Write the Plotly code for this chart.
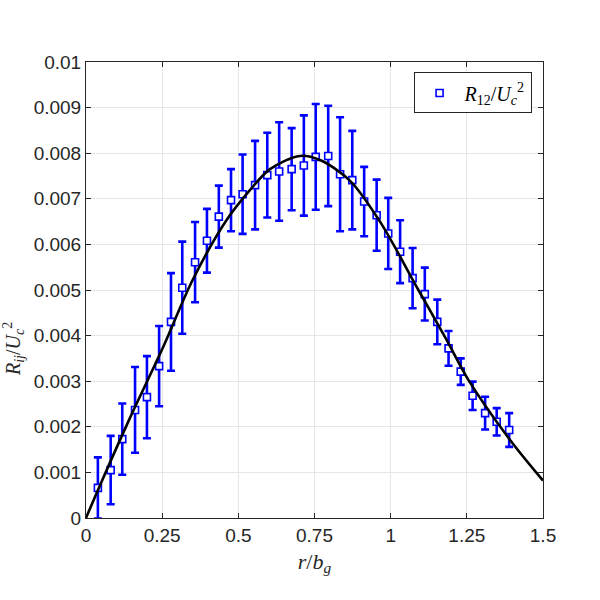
import plotly.graph_objects as go

r_bg = [0.039, 0.081, 0.119, 0.161, 0.200, 0.240, 0.279, 0.316, 0.358, 0.397,
        0.436, 0.476, 0.514, 0.555, 0.595, 0.634, 0.675, 0.715, 0.754, 0.795,
        0.834, 0.874, 0.913, 0.954, 0.992, 1.031, 1.072, 1.112, 1.153, 1.190,
        1.230, 1.269, 1.310, 1.348, 1.389]
R12 = [0.00066, 0.00105, 0.00173, 0.00237, 0.00265, 0.00333, 0.00430, 0.00505, 0.00561, 0.00608,
       0.00661, 0.00697, 0.00710, 0.00730, 0.00752, 0.00760, 0.00765, 0.00773, 0.00792, 0.00794,
       0.00754, 0.00741, 0.00694, 0.00664, 0.00624, 0.00584, 0.00526, 0.00491, 0.00430, 0.00372,
       0.00321, 0.00268, 0.00230, 0.00211, 0.00193]
R12_err = [0.00067, 0.00075, 0.00078, 0.00094, 0.00090, 0.00088, 0.00107, 0.00101, 0.00088, 0.00070,
           0.00068, 0.00068, 0.00087, 0.00097, 0.00093, 0.00108, 0.00090, 0.00110, 0.00116, 0.00110,
           0.00125, 0.00108, 0.00076, 0.00078, 0.00078, 0.00069, 0.00066, 0.00058, 0.00049, 0.00038,
           0.00029, 0.00031, 0.00036, 0.00030, 0.00037]

# reference curve
curve_x = [0.0, 0.039, 0.144, 0.254, 0.350, 0.462, 0.538, 0.604, 0.702, 0.768,
           0.866, 0.965, 1.091, 1.184, 1.255, 1.392, 1.5]
curve_y = [0.0, 0.00061, 0.00219, 0.00376, 0.00522, 0.00654, 0.00719, 0.00765, 0.00794, 0.00785,
           0.00740, 0.00650, 0.00500, 0.00390, 0.00303, 0.00171, 0.00082]

x_ticks = [0, 0.25, 0.5, 0.75, 1, 1.25, 1.5]
x_tick_text = ["0", "0.25", "0.5", "0.75", "1", "1.25", "1.5"]
y_ticks = [0, 0.001, 0.002, 0.003, 0.004, 0.005, 0.006, 0.007, 0.008, 0.009, 0.01]
y_tick_text = ["0", "0.001", "0.002", "0.003", "0.004", "0.005", "0.006", "0.007", "0.008", "0.009", "0.01"]

blue = "rgb(0,0,255)"
axcol = "rgb(38,38,38)"
serif = "Liberation Serif, Times New Roman, serif"
sans = "Liberation Sans, Arial, sans-serif"

fig = go.Figure()
fig.add_trace(go.Scatter(
    x=r_bg, y=R12, mode="markers",
    name="<i>R</i><sub>12</sub>/<i>U</i><sub><i>c</i></sub><sup>2</sup>",
    marker=dict(symbol="square", size=7, color="white", line=dict(color=blue, width=1.6)),
    error_y=dict(type="data", array=R12_err, visible=True, color=blue, thickness=2.6, width=4),
))
fig.add_trace(go.Scatter(
    x=curve_x, y=curve_y, mode="lines", showlegend=False,
    line=dict(color="black", width=2.6, shape="spline", smoothing=0.9),
))

axis_common = dict(
    showline=True, linecolor=axcol, linewidth=1, mirror="ticks",
    ticks="inside", ticklen=5, tickcolor=axcol,
    showgrid=True, gridcolor="rgb(230,230,230)", gridwidth=1,
    zeroline=False, tickfont=dict(family=sans, size=19, color=axcol),
)
fig.update_xaxes(range=[0, 1.5], tickvals=x_ticks, ticktext=x_tick_text,
                 title=dict(text="<i>r</i>/<i>b</i><sub><i>g</i></sub>",
                            font=dict(family=serif, size=22, color=axcol), standoff=8),
                 **axis_common)
fig.update_yaxes(range=[0, 0.01], tickvals=y_ticks, ticktext=y_tick_text, **axis_common)

fig.add_annotation(
    text="<i>R</i><sub><i>ij</i></sub>/<i>U</i><sub><i>c</i></sub><sup>2</sup>",
    xref="paper", yref="paper", x=-0.158, y=0.37, textangle=-90,
    showarrow=False, font=dict(family=serif, size=20, color=axcol),
    xanchor="center", yanchor="middle",
)

fig.update_layout(
    width=600, height=600,
    margin=dict(l=86, r=57, t=62, b=82),
    paper_bgcolor="white", plot_bgcolor="white",
    legend=dict(x=0.975, y=0.977, xanchor="right", yanchor="top",
                bgcolor="white", bordercolor=axcol, borderwidth=1, itemwidth=40,
                font=dict(family=serif, size=20, color="black")),
)

fig.write_html("out.html")
